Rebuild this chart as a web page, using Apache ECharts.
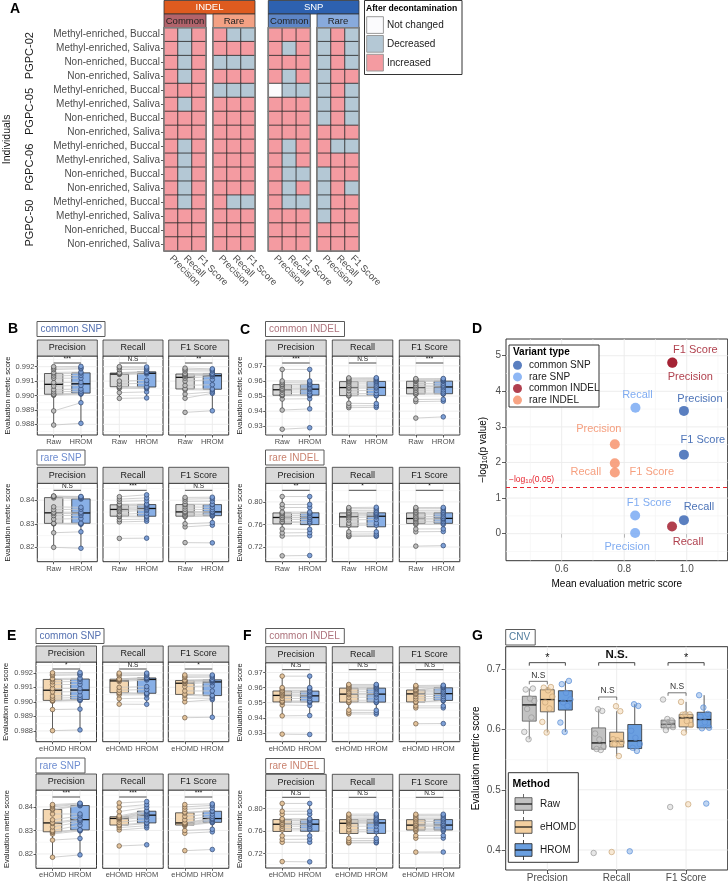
<!DOCTYPE html>
<html>
<head>
<meta charset="utf-8">
<script src="https://cdn.jsdelivr.net/npm/echarts@6/dist/echarts.min.js"></script>
<style>
html, body { margin: 0; padding: 0; background: #fff; }
#chart { width: 728px; height: 884px; }
</style>
</head>
<body>
<div id="chart"></div>
<script>
const FONT = '"Liberation Sans", Arial, Helvetica, sans-serif';

// ---------- A: change after decontamination ----------
const heatMetrics = ['Precision', 'Recall', 'F1 Score'];
const sampleTypes = ['Methyl-enriched, Buccal', 'Methyl-enriched, Saliva', 'Non-enriched, Buccal', 'Non-enriched, Saliva'];
const individuals = ['PGPC-02', 'PGPC-05', 'PGPC-06', 'PGPC-50'];
const changeLevels = ['Not changed', 'Decreased', 'Increased'];
// one string per sample row, letters = Precision / Recall / F1 (N, D, I)
const changeIndelCommon = ['IDI', 'IDI', 'IDI', 'IDI', 'III', 'IDI', 'III', 'III', 'IDI', 'IDI', 'IDI', 'IDI', 'IDI', 'III', 'III', 'III'];
const changeIndelRare = ['IDD', 'III', 'DDD', 'III', 'DDD', 'III', 'III', 'III', 'III', 'III', 'III', 'III', 'IDD', 'III', 'III', 'III'];
const changeSnpCommon = ['III', 'IDI', 'III', 'IDI', 'NDD', 'III', 'III', 'III', 'IDI', 'IDI', 'IDD', 'IDI', 'IDD', 'III', 'III', 'III'];
const changeSnpRare = ['DID', 'DID', 'DID', 'DII', 'DID', 'DID', 'DID', 'III', 'IDD', 'III', 'DII', 'DID', 'DII', 'DII', 'III', 'III'];

// ---------- B, C, E, F: per-sample metric scores (16 samples, paired by index) ----------
const cSnpPrecRaw = [0.98795, 0.98893, 0.99002, 0.99005, 0.99010, 0.99025, 0.99040, 0.99065, 0.99090, 0.99120, 0.99135, 0.99150, 0.99160, 0.99180, 0.99190, 0.99200];
const cSnpPrecHrom = [0.98807, 0.98950, 0.99010, 0.99012, 0.99018, 0.99030, 0.99045, 0.99070, 0.99092, 0.99120, 0.99140, 0.99155, 0.99163, 0.99185, 0.99192, 0.99202];
const cSnpPrecEhomd = [0.98802, 0.98947, 0.99005, 0.99007, 0.99011, 0.99025, 0.99040, 0.99068, 0.99092, 0.99118, 0.99138, 0.99152, 0.99160, 0.99182, 0.99190, 0.99200];
const cSnpRecRaw = [0.98980, 0.99020, 0.99050, 0.99058, 0.99062, 0.99080, 0.99100, 0.99146, 0.99151, 0.99152, 0.99153, 0.99155, 0.99158, 0.99180, 0.99192, 0.99200];
const cSnpRecHrom = [0.98983, 0.99025, 0.99048, 0.99055, 0.99060, 0.99085, 0.99105, 0.99150, 0.99158, 0.99160, 0.99162, 0.99163, 0.99168, 0.99182, 0.99190, 0.99198];
const cSnpRecEhomd = [0.98984, 0.99022, 0.99048, 0.99060, 0.99064, 0.99080, 0.99100, 0.99140, 0.99148, 0.99152, 0.99153, 0.99155, 0.99158, 0.99180, 0.99190, 0.99198];
const cSnpF1Raw = [0.98883, 0.98981, 0.99010, 0.99040, 0.99047, 0.99070, 0.99100, 0.99120, 0.99132, 0.99140, 0.99145, 0.99148, 0.99152, 0.99170, 0.99180, 0.99190];
const cSnpF1Hrom = [0.98894, 0.99015, 0.99025, 0.99038, 0.99045, 0.99075, 0.99110, 0.99132, 0.99142, 0.99145, 0.99148, 0.99150, 0.99155, 0.99170, 0.99178, 0.99185];
const cSnpF1Ehomd = [0.98891, 0.99000, 0.99025, 0.99045, 0.99053, 0.99075, 0.99105, 0.99125, 0.99131, 0.99140, 0.99143, 0.99146, 0.99150, 0.99168, 0.99176, 0.99185];

const rSnpPrecRaw = [0.8200, 0.8262, 0.8300, 0.8301, 0.8302, 0.8320, 0.8335, 0.8344, 0.8349, 0.8360, 0.8372, 0.8410, 0.8415, 0.8416, 0.8417, 0.8418];
const rSnpPrecHrom = [0.8196, 0.8266, 0.8298, 0.8300, 0.8303, 0.8322, 0.8336, 0.8343, 0.8349, 0.8362, 0.8370, 0.8405, 0.8408, 0.8412, 0.8414, 0.8416];
const rSnpPrecEhomd = [0.8186, 0.8259, 0.8285, 0.8292, 0.8295, 0.8300, 0.8315, 0.8330, 0.8334, 0.8345, 0.8370, 0.8388, 0.8392, 0.8400, 0.8405, 0.8410];
const rSnpRecRaw = [0.8238, 0.8308, 0.8318, 0.8330, 0.8333, 0.8340, 0.8352, 0.8358, 0.8364, 0.8370, 0.8376, 0.8380, 0.8383, 0.8395, 0.8405, 0.8415];
const rSnpRecHrom = [0.8239, 0.8311, 0.8320, 0.8329, 0.8333, 0.8345, 0.8357, 0.8362, 0.8368, 0.8372, 0.8378, 0.8381, 0.8384, 0.8398, 0.8410, 0.8423];
const rSnpRecEhomd = [0.8234, 0.8302, 0.8312, 0.8320, 0.8324, 0.8335, 0.8345, 0.8350, 0.8352, 0.8354, 0.8356, 0.8357, 0.8362, 0.8380, 0.8400, 0.8417];
const rSnpF1Raw = [0.8220, 0.8287, 0.8300, 0.8330, 0.8333, 0.8338, 0.8345, 0.8349, 0.8352, 0.8362, 0.8372, 0.8381, 0.8384, 0.8395, 0.8405, 0.8412];
const rSnpF1Hrom = [0.8219, 0.8294, 0.8305, 0.8333, 0.8335, 0.8340, 0.8346, 0.8349, 0.8352, 0.8360, 0.8370, 0.8381, 0.8383, 0.8396, 0.8407, 0.8413];
const rSnpF1Ehomd = [0.8214, 0.8288, 0.8300, 0.8320, 0.8324, 0.8326, 0.8328, 0.8331, 0.8333, 0.8345, 0.8360, 0.8374, 0.8378, 0.8390, 0.8400, 0.8410];

const cIndPrecRaw = [0.9280, 0.9407, 0.9480, 0.9503, 0.9506, 0.9510, 0.9525, 0.9538, 0.9545, 0.9552, 0.9565, 0.9575, 0.9578, 0.9590, 0.9600, 0.9676];
const cIndPrecHrom = [0.9290, 0.9415, 0.9482, 0.9503, 0.9507, 0.9512, 0.9528, 0.9542, 0.9549, 0.9555, 0.9567, 0.9576, 0.9580, 0.9592, 0.9600, 0.9676];
const cIndPrecEhomd = [0.9292, 0.9413, 0.9485, 0.9503, 0.9506, 0.9512, 0.9528, 0.9545, 0.9552, 0.9560, 0.9568, 0.9577, 0.9580, 0.9592, 0.9600, 0.9676];
const cIndRecRaw = [0.9423, 0.9435, 0.9452, 0.9500, 0.9504, 0.9515, 0.9535, 0.9552, 0.9560, 0.9572, 0.9585, 0.9594, 0.9600, 0.9608, 0.9615, 0.9620];
const cIndRecHrom = [0.9425, 0.9436, 0.9450, 0.9501, 0.9505, 0.9517, 0.9537, 0.9553, 0.9561, 0.9573, 0.9586, 0.9595, 0.9601, 0.9609, 0.9616, 0.9621];
const cIndRecEhomd = [0.9426, 0.9436, 0.9451, 0.9501, 0.9505, 0.9516, 0.9536, 0.9553, 0.9561, 0.9572, 0.9586, 0.9595, 0.9601, 0.9609, 0.9616, 0.9621];
const cIndF1Raw = [0.9354, 0.9463, 0.9477, 0.9512, 0.9515, 0.9525, 0.9538, 0.9550, 0.9560, 0.9570, 0.9582, 0.9597, 0.9600, 0.9605, 0.9610, 0.9615];
const cIndF1Hrom = [0.9362, 0.9466, 0.9479, 0.9513, 0.9516, 0.9527, 0.9541, 0.9555, 0.9565, 0.9573, 0.9585, 0.9598, 0.9601, 0.9606, 0.9611, 0.9616];
const cIndF1Ehomd = [0.9361, 0.9466, 0.9479, 0.9503, 0.9506, 0.9525, 0.9540, 0.9555, 0.9562, 0.9572, 0.9580, 0.9583, 0.9588, 0.9600, 0.9608, 0.9614];

const rIndPrecRaw = [0.7044, 0.7395, 0.7450, 0.7520, 0.7640, 0.7650, 0.7690, 0.7720, 0.7728, 0.7760, 0.7790, 0.7800, 0.7820, 0.7900, 0.7954, 0.8095];
const rIndPrecHrom = [0.7050, 0.7400, 0.7455, 0.7515, 0.7625, 0.7648, 0.7688, 0.7718, 0.7730, 0.7762, 0.7792, 0.7802, 0.7822, 0.7902, 0.7956, 0.8095];
const rIndPrecEhomd = [0.7055, 0.7400, 0.7452, 0.7515, 0.7620, 0.7648, 0.7688, 0.7718, 0.7728, 0.7760, 0.7790, 0.7802, 0.7822, 0.7900, 0.7955, 0.8095];
const rIndRecRaw = [0.7385, 0.7400, 0.7430, 0.7470, 0.7586, 0.7620, 0.7680, 0.7720, 0.7750, 0.7770, 0.7790, 0.7800, 0.7820, 0.7850, 0.7880, 0.7900];
const rIndRecHrom = [0.7390, 0.7402, 0.7432, 0.7470, 0.7588, 0.7625, 0.7690, 0.7735, 0.7757, 0.7775, 0.7792, 0.7802, 0.7822, 0.7852, 0.7882, 0.7905];
const rIndRecEhomd = [0.7389, 0.7401, 0.7431, 0.7470, 0.7587, 0.7623, 0.7686, 0.7728, 0.7752, 0.7772, 0.7791, 0.7801, 0.7821, 0.7851, 0.7881, 0.7903];
const rIndF1Raw = [0.7216, 0.7470, 0.7520, 0.7600, 0.7624, 0.7650, 0.7680, 0.7700, 0.7712, 0.7740, 0.7770, 0.7800, 0.7820, 0.7850, 0.7880, 0.7900];
const rIndF1Hrom = [0.7225, 0.7475, 0.7522, 0.7602, 0.7626, 0.7652, 0.7682, 0.7702, 0.7714, 0.7742, 0.7772, 0.7801, 0.7822, 0.7852, 0.7882, 0.7902];
const rIndF1Ehomd = [0.7224, 0.7474, 0.7521, 0.7601, 0.7625, 0.7651, 0.7681, 0.7701, 0.7713, 0.7741, 0.7771, 0.7800, 0.7821, 0.7851, 0.7881, 0.7901];

// significance labels (Precision, Recall, F1 Score)
const sigRawCommonSnp = ['***', 'N.S', '**'];
const sigRawRareSnp = ['N.S', '***', 'N.S'];
const sigRawCommonIndel = ['***', 'N.S', '***'];
const sigRawRareIndel = ['**', '*', '*'];
const sigEhomdCommonSnp = ['*', 'N.S', '*'];
const sigEhomdRareSnp = ['***', '***', '***'];
const sigEhomdCommonIndel = ['N.S', 'N.S', 'N.S'];
const sigEhomdRareIndel = ['N.S', 'N.S', 'N.S'];

// y axes
const ticksCommonSnp = [0.988, 0.989, 0.990, 0.991, 0.992];
const ticksRareSnp = [0.82, 0.83, 0.84];
const ticksCommonIndel = [0.93, 0.94, 0.95, 0.96, 0.97];
const ticksRareIndel = [0.72, 0.76, 0.80];
const rangeCommonSnp = [0.98726, 0.99274];
const rangeRareSnp = [0.8139, 0.8472];
const rangeCommonIndel = [0.9242, 0.9765];
const rangeRareIndel = [0.694, 0.833];

// ---------- D: mean score vs -log10(p) (Precision, Recall, F1 Score) ----------
const dVariants = ['common SNP', 'rare SNP', 'common INDEL', 'rare INDEL'];
const dMeanCommonSnp = [0.991, 0.991, 0.991];
const dLogpCommonSnp = [3.45, 0.38, 2.22];
const dMeanRareSnp = [0.835, 0.836, 0.835];
const dLogpRareSnp = [0.02, 3.54, 0.51];
const dMeanCommonIndel = [0.954, 0.953, 0.954];
const dLogpCommonIndel = [4.80, 0.20, 4.81];
const dMeanRareIndel = [0.770, 0.770, 0.770];
const dLogpRareIndel = [2.51, 1.72, 1.98];
const dTicksX = [0.6, 0.8, 1.0];
const dTicksY = [0, 1, 2, 3, 4, 5];
const pThreshold = 0.05;

// ---------- G: CNV ----------
const cnvMetrics = ['Precision', 'Recall', 'F1 Score'];
const cnvMethods = ['Raw', 'eHOMD', 'HROM'];
const cnvPrecRaw = [0.5839, 0.5960, 0.6199, 0.6342, 0.6475, 0.6515, 0.6664, 0.6681];
const cnvPrecEhomd = [0.5950, 0.6126, 0.6350, 0.6450, 0.6546, 0.6650, 0.6695, 0.6705];
const cnvPrecHrom = [0.5960, 0.6116, 0.6392, 0.6450, 0.6500, 0.6608, 0.6753, 0.6807];
const cnvRecRaw = [0.3950, 0.5660, 0.5677, 0.5720, 0.5835, 0.5933, 0.6309, 0.6337];
const cnvRecEhomd = [0.3967, 0.5560, 0.5760, 0.5790, 0.5822, 0.5840, 0.6304, 0.6387];
const cnvRecHrom = [0.3978, 0.5645, 0.5697, 0.5760, 0.5862, 0.5980, 0.6392, 0.6420];
const cnvF1Raw = [0.4714, 0.5990, 0.6040, 0.6075, 0.6100, 0.6150, 0.6175, 0.6498];
const cnvF1Ehomd = [0.4759, 0.5950, 0.6075, 0.6140, 0.6246, 0.6250, 0.6254, 0.6459];
const cnvF1Hrom = [0.4771, 0.6020, 0.6030, 0.6120, 0.6212, 0.6260, 0.6365, 0.6570];
const cnvSigAll = ['*', 'N.S.', '*'];
const cnvSigRawEhomd = ['N.S', 'N.S', 'N.S'];
const cnvBracketAll = [0.711, 0.711, 0.711];
const cnvBracketRawEhomd = [0.680, 0.654, 0.661];
const cnvTicks = [0.4, 0.5, 0.6, 0.7];
const cnvRange = [0.3668, 0.7375];

// ---------- helpers ----------
function quantile(s, p) {
    const h = (s.length - 1) * p, lo = Math.floor(h);
    const hiV = lo + 1 < s.length ? s[lo + 1] : s[lo];
    return s[lo] + (h - lo) * (hiV - s[lo]);
}
function boxStats(values) {
    const s = values.slice().sort((a, b) => a - b);
    const q1 = quantile(s, 0.25), md = quantile(s, 0.5), q3 = quantile(s, 0.75);
    const f = 1.5 * (q3 - q1);
    const inside = s.filter(v => v >= q1 - f && v <= q3 + f);
    return [inside[0], q1, md, q3, inside[inside.length - 1]];
}
function minorsOf(ticks, range) {
    const step = ticks[1] - ticks[0], out = [];
    for (let i = -1; i < ticks.length; i++) {
        const m = ticks[0] + (i + 0.5) * step;
        if (m > range[0] && m < range[1]) out.push(m);
    }
    return out;
}

const grids = [], xAxes = [], yAxes = [], series = [], gfx = [];

function addGrid(rect, border) {
    grids.push(Object.assign({ outerBoundsMode: 'none', containLabel: false }, rect,
        border ? { show: true, borderColor: '#333', borderWidth: 1, backgroundColor: '#fff' } : { show: false }));
    return grids.length - 1;
}
function gText(x, y, text, o) {
    o = o || {};
    gfx.push({
        type: 'text', x: x, y: y, rotation: o.rotation || 0, z: 100, silent: true,
        style: {
            text: text, fill: o.color || '#1a1a1a',
            font: (o.weight || 'normal') + ' ' + (o.size || 10) + 'px ' + FONT,
            align: o.align || 'left', verticalAlign: o.valign || 'middle'
        }
    });
}
function gRect(x, y, w, h, o) {
    o = o || {};
    gfx.push({
        type: 'rect', z: o.z || 90, silent: true, shape: { x: x, y: y, width: w, height: h },
        style: { fill: o.fill || 'none', stroke: o.stroke || '#333', lineWidth: o.lw || 1 }
    });
}
function gLine(x1, y1, x2, y2, o) {
    o = o || {};
    gfx.push({
        type: 'line', z: 95, silent: true, shape: { x1: x1, y1: y1, x2: x2, y2: y2 },
        style: { stroke: o.stroke || '#333', lineWidth: o.lw || 1 }
    });
}

function renderGridLine(params, api) {
    const cs = params.coordSys;
    const kind = api.value(0);
    const p = api.coord([api.value(1), api.value(2)]);
    const major = kind === 0 || kind === 2;
    const shape = kind < 2
        ? { x1: cs.x, y1: p[1], x2: cs.x + cs.width, y2: p[1] }
        : { x1: p[0], y1: cs.y, x2: p[0], y2: cs.y + cs.height };
    return { type: 'line', shape: shape, style: { stroke: major ? '#EBEBEB' : '#F4F4F4', lineWidth: major ? 0.9 : 0.6 } };
}
function gridLineSeries(gi, hMajor, hMinor, vMajor, vMinor, anchor) {
    const data = [];
    hMajor.forEach(v => data.push([0, anchor[0], v]));
    hMinor.forEach(v => data.push([1, anchor[0], v]));
    vMajor.forEach(v => data.push([2, v, anchor[1]]));
    vMinor.forEach(v => data.push([3, v, anchor[1]]));
    return { type: 'custom', xAxisIndex: gi, yAxisIndex: gi, z: 1, silent: true, encode: { x: 1, y: 2 }, data: data, renderItem: renderGridLine };
}
function boxSeries(gi, items, st, halfWidth, shift) {
    return {
        type: 'custom', xAxisIndex: gi, yAxisIndex: gi, z: 3, silent: true,
        encode: { x: 0, y: [1, 2, 3, 4, 5] }, data: items,
        renderItem: function (params, api) {
            const xc = api.value(0) + shift;
            const c = v => api.coord([xc, v]);
            const x0 = api.coord([xc - halfWidth, api.value(3)])[0];
            const x1 = api.coord([xc + halfWidth, api.value(3)])[0];
            const xm = c(api.value(3))[0];
            const lo = c(api.value(1))[1], q1 = c(api.value(2))[1], md = c(api.value(3))[1];
            const q3 = c(api.value(4))[1], hi = c(api.value(5))[1];
            return {
                type: 'group', children: [
                    { type: 'line', shape: { x1: xm, y1: hi, x2: xm, y2: q3 }, style: { stroke: st.line, lineWidth: 0.8 } },
                    { type: 'line', shape: { x1: xm, y1: q1, x2: xm, y2: lo }, style: { stroke: st.line, lineWidth: 0.8 } },
                    { type: 'rect', shape: { x: x0, y: q3, width: x1 - x0, height: q1 - q3 }, style: { fill: st.box, stroke: st.line, lineWidth: 0.8 } },
                    { type: 'line', shape: { x1: x0, y1: md, x2: x1, y2: md }, style: { stroke: '#111', lineWidth: 1.3 } }
                ]
            };
        }
    };
}
function pairSeries(gi, a, b) {
    return {
        type: 'custom', xAxisIndex: gi, yAxisIndex: gi, z: 4, silent: true, encode: { x: 0, y: [1, 2] },
        data: a.map((v, i) => [1, v, b[i]]),
        renderItem: function (params, api) {
            const p0 = api.coord([1, api.value(1)]), p1 = api.coord([2, api.value(2)]);
            return { type: 'line', shape: { x1: p0[0], y1: p0[1], x2: p1[0], y2: p1[1] }, style: { stroke: '#C6C6C6', lineWidth: 0.8 } };
        }
    };
}
function pointSeries(gi, pos, vals, st) {
    return {
        type: 'scatter', xAxisIndex: gi, yAxisIndex: gi, z: 5, silent: true, symbolSize: 4.6,
        itemStyle: { color: st.point, borderColor: st.pointBorder, borderWidth: 0.7, opacity: 1 },
        data: vals.map(v => [pos, v])
    };
}
function sigSeries(gi, text, yAnchor) {
    return {
        type: 'custom', xAxisIndex: gi, yAxisIndex: gi, z: 6, silent: true, encode: { x: 0, y: 1 }, data: [[1, yAnchor]],
        renderItem: function (params, api) {
            const cs = params.coordSys;
            const xa = api.coord([1, api.value(1)])[0], xb = api.coord([2, api.value(1)])[0];
            const y = cs.y + 7;
            return {
                type: 'group', children: [
                    { type: 'line', shape: { x1: xa, y1: y, x2: xb, y2: y }, style: { stroke: '#222', lineWidth: 0.8 } },
                    { type: 'text', x: (xa + xb) / 2, y: y - 0.5, style: { text: text, fill: '#222', font: '6.5px ' + FONT, align: 'center', verticalAlign: 'bottom' } }
                ]
            };
        }
    };
}

// ---------- A: heatmap blocks ----------
const heatTop = 27.7, heatHeight = 223.3, heatWidth = 42;
const heatLeft = [164, 213, 268.3, 317];
const heatBlocks = [changeIndelCommon, changeIndelRare, changeSnpCommon, changeSnpRare];
const rowIds = changeIndelCommon.map((_, i) => String(i));
const codeValue = { N: 0, D: 1, I: 2 };

heatBlocks.forEach((codes, b) => {
    const gi = addGrid({ left: heatLeft[b], top: heatTop, width: heatWidth, height: heatHeight }, false);
    xAxes.push({
        gridIndex: gi, type: 'category', data: heatMetrics,
        axisLine: { show: false }, splitLine: { show: false },
        axisTick: { alignWithLabel: true, length: 3, lineStyle: { color: '#333', width: 0.8 } },
        axisLabel: { rotate: -45, interval: 0, fontSize: 9.5, color: '#4D4D4D', margin: 6 }
    });
    yAxes.push({
        gridIndex: gi, type: 'category', inverse: true, data: rowIds,
        axisLine: { show: false }, splitLine: { show: false },
        axisTick: { show: b === 0, alignWithLabel: true, length: 3, lineStyle: { color: '#333', width: 0.8 } },
        axisLabel: { show: b === 0, interval: 0, fontSize: 10, color: '#4D4D4D', margin: 4, formatter: (v, i) => sampleTypes[i % sampleTypes.length] }
    });
    const data = [];
    codes.forEach((code, r) => code.split('').forEach((c, k) => data.push([k, r, codeValue[c]])));
    series.push({
        type: 'heatmap', xAxisIndex: gi, yAxisIndex: gi, data: data, silent: true,
        itemStyle: { borderColor: '#2a2a2a', borderWidth: 0.8 }, emphasis: { disabled: true }
    });
    gRect(heatLeft[b], heatTop, heatWidth, heatHeight, { stroke: '#7F7F7F', lw: 1.5, z: 99 });
});

// strips for A
gRect(heatLeft[0], 0.5, heatLeft[1] + heatWidth - heatLeft[0], 13.5, { fill: '#DE5B1F', stroke: '#333', lw: 0.8 });
gText((heatLeft[0] + heatLeft[1] + heatWidth) / 2, 7.5, 'INDEL', { color: '#fff', size: 9.5, align: 'center' });
gRect(heatLeft[2], 0.5, heatLeft[3] + heatWidth - heatLeft[2], 13.5, { fill: '#2D61B0', stroke: '#333', lw: 0.8 });
gText((heatLeft[2] + heatLeft[3] + heatWidth) / 2, 7.5, 'SNP', { color: '#fff', size: 9.5, align: 'center' });
const subStripFill = ['#B2636B', '#F3A184', '#5D85C6', '#88AADC'];
const subStripText = ['Common', 'Rare', 'Common', 'Rare'];
heatLeft.forEach((x, b) => {
    gRect(x, 14, heatWidth, 13.7, { fill: subStripFill[b], stroke: '#333', lw: 0.8 });
    gText(x + heatWidth / 2, 21, subStripText[b], { size: 9.5, align: 'center', color: '#222' });
});
const rowH = heatHeight / changeIndelCommon.length;
individuals.forEach((name, g) => {
    gText(30, heatTop + (g * 4 + 2) * rowH, name, { size: 11, align: 'center', rotation: Math.PI / 2 });
});
gText(7, heatTop + heatHeight / 2, 'Individuals', { size: 10.5, align: 'center', rotation: Math.PI / 2 });

// A legend
const changeColors = ['#FBFBFD', '#B4C8D5', '#F49BA1'];
gRect(364.5, 0.5, 97.5, 74, { fill: '#fff', stroke: '#333', lw: 1 });
gText(366, 8.5, 'After decontamination', { size: 8.6, weight: 'bold', color: '#000' });
changeLevels.forEach((lvl, i) => {
    const y = 16.7 + i * 18.8;
    gRect(366.7, y, 16.7, 16.7, { fill: changeColors[i], stroke: '#9A9A9A', lw: 1 });
    gText(387, y + 8.5, lvl, { size: 10 });
});

// ---------- B, C, E, F: facet rows ----------
const methodStyle = {
    Raw: { box: '#D8D8D8', line: '#3A3A3A', point: '#BDBDBD', pointBorder: '#4A4A4A' },
    HROM: { box: '#88AFE6', line: '#2E2E2E', point: '#7C9FD6', pointBorder: '#2F4670' },
    eHOMD: { box: '#F4D7B1', line: '#3A3A3A', point: '#E2C29A', pointBorder: '#6B5842' }
};
const colSNP = '#5470B0', colRareSNP = '#6D8CD0', colINDEL = '#AD737C', colRareINDEL = '#C9826F';
const facetRows = [
    { cols: [37.3, 103, 168.7], width: 60, top: 356, height: 79, methods: ['Raw', 'HROM'],
      values: [[cSnpPrecRaw, cSnpPrecHrom], [cSnpRecRaw, cSnpRecHrom], [cSnpF1Raw, cSnpF1Hrom]],
      ticks: ticksCommonSnp, range: rangeCommonSnp, digits: 3, sig: sigRawCommonSnp, nameGap: 25,
      tag: { text: 'common SNP', x: 37, y: 321.5, w: 68, color: colSNP } },
    { cols: [37.3, 103, 168.7], width: 60, top: 483.3, height: 78.4, methods: ['Raw', 'HROM'],
      values: [[rSnpPrecRaw, rSnpPrecHrom], [rSnpRecRaw, rSnpRecHrom], [rSnpF1Raw, rSnpF1Hrom]],
      ticks: ticksRareSnp, range: rangeRareSnp, digits: 2, sig: sigRawRareSnp, nameGap: 25,
      tag: { text: 'rare SNP', x: 37, y: 450, w: 48, color: colRareSNP } },
    { cols: [265.7, 332.3, 399.3], width: 60.5, top: 356, height: 79, methods: ['Raw', 'HROM'],
      values: [[cIndPrecRaw, cIndPrecHrom], [cIndRecRaw, cIndRecHrom], [cIndF1Raw, cIndF1Hrom]],
      ticks: ticksCommonIndel, range: rangeCommonIndel, digits: 2, sig: sigRawCommonIndel, nameGap: 19,
      tag: { text: 'common INDEL', x: 265.5, y: 321.5, w: 79, color: colINDEL } },
    { cols: [265.7, 332.3, 399.3], width: 60.5, top: 483.3, height: 78.4, methods: ['Raw', 'HROM'],
      values: [[rIndPrecRaw, rIndPrecHrom], [rIndRecRaw, rIndRecHrom], [rIndF1Raw, rIndF1Hrom]],
      ticks: ticksRareIndel, range: rangeRareIndel, digits: 2, sig: sigRawRareIndel, nameGap: 19,
      tag: { text: 'rare INDEL', x: 265.5, y: 450, w: 58.5, color: colRareINDEL } },
    { cols: [36, 102.7, 168.3], width: 60.5, top: 662, height: 79.7, methods: ['eHOMD', 'HROM'],
      values: [[cSnpPrecEhomd, cSnpPrecHrom], [cSnpRecEhomd, cSnpRecHrom], [cSnpF1Ehomd, cSnpF1Hrom]],
      ticks: ticksCommonSnp, range: rangeCommonSnp, digits: 3, sig: sigEhomdCommonSnp, nameGap: 25,
      tag: { text: 'common SNP', x: 36, y: 628.5, w: 68, color: colSNP } },
    { cols: [36, 102.7, 168.3], width: 60.5, top: 790, height: 78.3, methods: ['eHOMD', 'HROM'],
      values: [[rSnpPrecEhomd, rSnpPrecHrom], [rSnpRecEhomd, rSnpRecHrom], [rSnpF1Ehomd, rSnpF1Hrom]],
      ticks: ticksRareSnp, range: rangeRareSnp, digits: 2, sig: sigEhomdRareSnp, nameGap: 25,
      tag: { text: 'rare SNP', x: 36, y: 758, w: 49, color: colRareSNP } },
    { cols: [265.7, 332.3, 399.3], width: 60.5, top: 662.7, height: 79, methods: ['eHOMD', 'HROM'],
      values: [[cIndPrecEhomd, cIndPrecHrom], [cIndRecEhomd, cIndRecHrom], [cIndF1Ehomd, cIndF1Hrom]],
      ticks: ticksCommonIndel, range: rangeCommonIndel, digits: 2, sig: sigEhomdCommonIndel, nameGap: 19,
      tag: { text: 'common INDEL', x: 265.7, y: 628.5, w: 78.6, color: colINDEL } },
    { cols: [265.7, 332.3, 399.3], width: 60.5, top: 790.3, height: 77.7, methods: ['eHOMD', 'HROM'],
      values: [[rIndPrecEhomd, rIndPrecHrom], [rIndRecEhomd, rIndRecHrom], [rIndF1Ehomd, rIndF1Hrom]],
      ticks: ticksRareIndel, range: rangeRareIndel, digits: 2, sig: sigEhomdRareIndel, nameGap: 19,
      tag: { text: 'rare INDEL', x: 265.7, y: 758.5, w: 58.6, color: colRareINDEL } }
];

facetRows.forEach(row => {
    heatMetrics.forEach((metric, j) => {
        const gi = addGrid({ left: row.cols[j], top: row.top, width: row.width, height: row.height }, true);
        const first = j === 0;
        xAxes.push({
            gridIndex: gi, type: 'value', min: 0.4, max: row.methods.length + 0.6,
            axisLine: { show: false }, splitLine: { show: false },
            axisTick: { show: true, length: 2.5, customValues: [1, 2], lineStyle: { color: '#333', width: 0.8 } },
            axisLabel: { customValues: [1, 2], formatter: v => row.methods[Math.round(v) - 1], fontSize: 7.5, color: '#4D4D4D', margin: 3 }
        });
        yAxes.push({
            gridIndex: gi, type: 'value', min: row.range[0], max: row.range[1],
            axisLine: { show: false }, splitLine: { show: false },
            axisTick: { show: first, length: 2.5, customValues: row.ticks, lineStyle: { color: '#333', width: 0.8 } },
            axisLabel: { show: first, customValues: row.ticks, formatter: v => v.toFixed(row.digits), fontSize: 7.5, color: '#4D4D4D', margin: 3 },
            name: first ? 'Evaluation metric score' : '', nameLocation: 'middle', nameGap: row.nameGap,
            nameTextStyle: { fontSize: 7.5, color: '#1a1a1a' }
        });
        const a = row.values[j][0], b = row.values[j][1];
        const sA = methodStyle[row.methods[0]], sB = methodStyle[row.methods[1]];
        series.push(gridLineSeries(gi, row.ticks, minorsOf(row.ticks, row.range), [1, 2], [], [1, row.range[0]]));
        series.push(boxSeries(gi, [[1].concat(boxStats(a))], sA, 0.337, 0));
        series.push(boxSeries(gi, [[2].concat(boxStats(b))], sB, 0.337, 0));
        series.push(pairSeries(gi, a, b));
        series.push(pointSeries(gi, 1, a, sA));
        series.push(pointSeries(gi, 2, b, sB));
        series.push(sigSeries(gi, row.sig[j], row.range[0]));
        gRect(row.cols[j], row.top - 16, row.width, 16, { fill: '#D9D9D9', stroke: '#333', lw: 0.8 });
        gText(row.cols[j] + row.width / 2, row.top - 8, metric, { size: 9, align: 'center', color: '#1a1a1a' });
    });
    gRect(row.tag.x, row.tag.y, row.tag.w, 15, { fill: '#fff', stroke: '#5A5A5A', lw: 1 });
    gText(row.tag.x + 3.5, row.tag.y + 7.8, row.tag.text, { size: 10, color: row.tag.color });
});

// ---------- D ----------
const gD = addGrid({ left: 506, top: 339, width: 221.7, height: 221.7 }, true);
const dRangeX = [0.422, 1.131], dRangeY = [-0.76, 5.47];
xAxes.push({
    gridIndex: gD, type: 'value', min: dRangeX[0], max: dRangeX[1],
    axisLine: { show: false }, splitLine: { show: false },
    axisTick: { length: 4, customValues: dTicksX, lineStyle: { color: '#333', width: 0.8 } },
    axisLabel: { customValues: dTicksX, formatter: v => v.toFixed(1), fontSize: 10, color: '#4D4D4D', margin: 4 },
    name: 'Mean evaluation metric score', nameLocation: 'middle', nameGap: 19,
    nameTextStyle: { fontSize: 10, color: '#000' }
});
yAxes.push({
    gridIndex: gD, type: 'value', min: dRangeY[0], max: dRangeY[1],
    axisLine: { show: false }, splitLine: { show: false },
    axisTick: { length: 4, customValues: dTicksY, lineStyle: { color: '#333', width: 0.8 } },
    axisLabel: { customValues: dTicksY, fontSize: 10, color: '#4D4D4D', margin: 5 },
    name: '\u2212log{sub|10}(p value)', nameLocation: 'middle', nameGap: 17,
    nameTextStyle: { fontSize: 10, color: '#000', rich: { sub: { fontSize: 7, verticalAlign: 'bottom', padding: [5, 0, 0, 0] } } }
});
series.push(gridLineSeries(gD, dTicksY, minorsOf(dTicksY, dRangeY), dTicksX, minorsOf(dTicksX, dRangeX), [dRangeX[0], dRangeY[0]]));

const dSets = [
    { x: dMeanCommonSnp, y: dLogpCommonSnp, color: '#3D69B5', text: '#2D5BAA',
      off: [[16, -12], [15, -13], [19, -15]] },
    { x: dMeanRareSnp, y: dLogpRareSnp, color: '#7AAAF3', text: '#6A9EEF',
      off: [[-8, 14], [2, -13], [14, -13]] },
    { x: dMeanCommonIndel, y: dLogpCommonIndel, color: '#A31F30', text: '#A2202F',
      off: [[18, 14], [16, 15], [23, -13]] },
    { x: dMeanRareIndel, y: dLogpRareIndel, color: '#F7946E', text: '#F48E68',
      off: [[-16, -15], [-29, 0], [37, 9]] }
];
dSets.forEach((s, k) => {
    const ser = {
        type: 'scatter', name: dVariants[k], xAxisIndex: gD, yAxisIndex: gD, z: 5, symbolSize: 10,
        itemStyle: { color: s.color, opacity: 0.85 },
        label: { show: true, position: 'inside', formatter: p => p.name, color: s.text, fontSize: 11 },
        emphasis: { disabled: true },
        data: s.x.map((xv, i) => ({ name: heatMetrics[i], value: [xv, s.y[i]], label: { offset: s.off[i] } }))
    };
    if (k === 0) {
        ser.markLine = {
            silent: true, symbol: 'none', animation: false,
            lineStyle: { color: '#E8252F', type: [4, 3], width: 1.1 },
            label: {
                show: true, position: 'insideStartTop', distance: 3,
                formatter: '\u2212log{sub|10}(0.05)', color: '#E8252F', fontSize: 8.5,
                rich: { sub: { fontSize: 6, color: '#E8252F', verticalAlign: 'bottom', padding: [4, 0, 0, 0] } }
            },
            data: [{ yAxis: -Math.log10(pThreshold) }]
        };
    }
    series.push(ser);
});
gRect(509, 345, 90, 62, { fill: '#fff', stroke: '#333', lw: 1, z: 80 });
gText(513, 352.5, 'Variant type', { size: 10, weight: 'bold', color: '#000' });

// ---------- G ----------
const gG = addGrid({ left: 505.7, top: 646.7, width: 222, height: 223.3 }, true);
xAxes.push({
    gridIndex: gG, type: 'value', min: 0.4, max: 3.6,
    axisLine: { show: false }, splitLine: { show: false },
    axisTick: { length: 4, customValues: [1, 2, 3], lineStyle: { color: '#333', width: 0.8 } },
    axisLabel: { customValues: [1, 2, 3], formatter: v => cnvMetrics[Math.round(v) - 1], fontSize: 10, color: '#4D4D4D', margin: 3 }
});
yAxes.push({
    gridIndex: gG, type: 'value', min: cnvRange[0], max: cnvRange[1],
    axisLine: { show: false }, splitLine: { show: false },
    axisTick: { length: 4, customValues: cnvTicks, lineStyle: { color: '#333', width: 0.8 } },
    axisLabel: { customValues: cnvTicks, formatter: v => v.toFixed(1), fontSize: 10, color: '#4D4D4D', margin: 5 },
    name: 'Evaluation metric score', nameLocation: 'middle', nameGap: 24,
    nameTextStyle: { fontSize: 10, color: '#000' }
});
series.push(gridLineSeries(gG, cnvTicks, minorsOf(cnvTicks, cnvRange), [1, 2, 3], [], [1, cnvRange[0]]));

const cnvValues = {
    Raw: [cnvPrecRaw, cnvRecRaw, cnvF1Raw],
    eHOMD: [cnvPrecEhomd, cnvRecEhomd, cnvF1Ehomd],
    HROM: [cnvPrecHrom, cnvRecHrom, cnvF1Hrom]
};
const cnvShift = { Raw: -0.26, eHOMD: 0, HROM: 0.26 };
const cnvStyle = {
    Raw: { box: '#C2C2C2', line: '#5A5A5A', point: 'rgba(200,200,200,0.55)', pointBorder: '#999999' },
    eHOMD: { box: '#F3CF9F', line: '#4A4A4A', point: 'rgba(240,205,160,0.55)', pointBorder: '#C8A679' },
    HROM: { box: '#6A9FE0', line: '#2E2E2E', point: 'rgba(110,160,225,0.55)', pointBorder: '#5A8ED6' }
};
const jitterPx = i => (((i * 5 + 3) % 8) / 7 - 0.5) * 10;
cnvMethods.forEach(m => {
    const st = cnvStyle[m];
    series.push(boxSeries(gG, cnvValues[m].map((vals, k) => [k + 1].concat(boxStats(vals))), st, 0.1, cnvShift[m]));
    const pts = [];
    cnvValues[m].forEach((vals, k) => vals.forEach((v, i) => pts.push({ value: [k + 1 + cnvShift[m], v], symbolOffset: [jitterPx(i + k), 0] })));
    series.push({
        type: 'scatter', xAxisIndex: gG, yAxisIndex: gG, z: 5, silent: true, symbolSize: 5.5,
        itemStyle: { color: st.point, borderColor: st.pointBorder, borderWidth: 0.9 }, data: pts
    });
});
series.push({
    type: 'custom', xAxisIndex: gG, yAxisIndex: gG, z: 6, silent: true, encode: { x: 0, y: [1, 2] },
    data: cnvMetrics.map((m, k) => [k + 1, cnvBracketAll[k], cnvBracketRawEhomd[k]]),
    renderItem: function (params, api) {
        const k = params.dataIndex, c = api.value(0);
        const xr = api.coord([c + cnvShift.Raw, 0.5])[0];
        const xe = api.coord([c + cnvShift.eHOMD, 0.5])[0];
        const xh = api.coord([c + cnvShift.HROM, 0.5])[0];
        const y1 = api.coord([c, api.value(1)])[1], y2 = api.coord([c, api.value(2)])[1];
        const bold = cnvSigAll[k].length > 1;
        return {
            type: 'group', children: [
                { type: 'polyline', shape: { points: [[xr, y1 + 3], [xr, y1], [xh, y1], [xh, y1 + 3]] }, style: { stroke: '#333', lineWidth: 0.9, fill: 'none' } },
                { type: 'text', x: (xr + xh) / 2, y: y1 - (bold ? 1.5 : -1), style: { text: cnvSigAll[k], fill: '#111', font: (bold ? 'bold 11.5px ' : '11px ') + FONT, align: 'center', verticalAlign: 'bottom' } },
                { type: 'polyline', shape: { points: [[xr, y2 + 3], [xr, y2], [xe, y2], [xe, y2 + 3]] }, style: { stroke: '#666', lineWidth: 0.9, fill: 'none' } },
                { type: 'text', x: (xr + xe) / 2, y: y2 - 1.5, style: { text: cnvSigRawEhomd[k], fill: '#333', font: '8.5px ' + FONT, align: 'center', verticalAlign: 'bottom' } }
            ]
        };
    }
});
gRect(505.7, 629.5, 29.5, 15.5, { fill: '#fff', stroke: '#5A5A5A', lw: 1 });
gText(509, 637.5, 'CNV', { size: 10, color: '#4F7B9C' });

// G legend
gRect(508.3, 772.7, 70, 89.6, { fill: '#fff', stroke: '#333', lw: 1, z: 90 });
gText(512.5, 784.5, 'Method', { size: 10.5, weight: 'bold', color: '#000' });
cnvMethods.forEach((m, i) => {
    const cy = 804 + i * 23;
    const st = cnvStyle[m];
    gLine(523.5, cy - 10, 523.5, cy + 10, { stroke: st.line, lw: 0.9 });
    gRect(515, cy - 6.3, 17, 12.6, { fill: st.box, stroke: st.line, lw: 0.9, z: 96 });
    gfx.push({ type: 'line', z: 97, silent: true, shape: { x1: 515, y1: cy, x2: 532, y2: cy }, style: { stroke: '#111', lineWidth: 1.2 } });
    gText(540, cy, m, { size: 10 });
});

// panel letters
[['A', 10, 9], ['B', 8, 329], ['C', 240, 330], ['D', 472, 329], ['E', 7, 636], ['F', 243, 636], ['G', 472, 636]]
    .forEach(t => gText(t[1], t[2], t[0], { size: 14, weight: 'bold', color: '#000' }));

const chart = echarts.init(document.getElementById('chart'), null, { renderer: 'canvas' });
chart.setOption({
    animation: false,
    backgroundColor: '#fff',
    textStyle: { fontFamily: FONT },
    grid: grids,
    xAxis: xAxes,
    yAxis: yAxes,
    visualMap: [{
        type: 'piecewise', show: false, dimension: 2, seriesIndex: [0, 1, 2, 3],
        pieces: changeLevels.map((lvl, i) => ({ value: i, color: changeColors[i], label: lvl }))
    }],
    legend: [{
        show: true, selectedMode: false, orient: 'vertical', left: 513, top: 359.5, padding: 0, z: 120,
        itemWidth: 9, itemHeight: 9, itemGap: 0, icon: 'circle', data: dVariants,
        textStyle: { fontSize: 10, color: '#1a1a1a', lineHeight: 11.6, padding: [0, 0, 0, 2] }
    }],
    graphic: gfx,
    series: series
});
window.addEventListener('resize', () => chart.resize());
</script>
</body>
</html>
